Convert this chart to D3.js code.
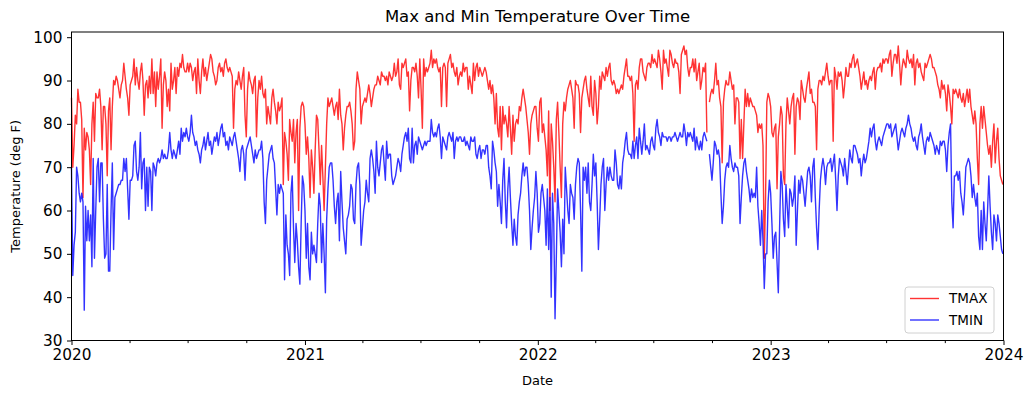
<!DOCTYPE html>
<html>
<head>
<meta charset="utf-8">
<script src="https://cdn.jsdelivr.net/npm/d3@7"></script>
<style>
  body { margin: 0; background: #fff; }
  svg { display: block; font-family: "DejaVu Sans", sans-serif; }
</style>
</head>
<body>
<div id="chart"></div>
<script>
// Readings every second day, first one on 2020-01-01 (null = missing)
var startDate = new Date(2020, 0, 1);
var endDate = new Date(2024, 0, 1);
var stepDays = 2;

var tmax = [
  // 2020
  86,70,75,82,80,88,85,85,81,63, 79,74,78,77,74,66,80,85,76,87,
  86,86,88,84,74,84,84,80,68,83, 86,74,84,90,89,91,90,88,86,89,
  90,94,91,88,86,82,89,90,91,95, 89,93,90,88,92,94,90,82,89,90,
  86,91,87,95,87,92,84,92,88,91, 95,79,89,92,90,84,88,83,94,88,
  90,93,87,93,91,94,93,96,93,92, 92,94,92,94,93,90,92,93,87,95,
  90,87,92,95,91,93,90,92,94,96, 95,92,91,89,90,93,94,92,93,91,
  94,95,93,92,
  93,92,91,79,88,90,89,92,90,88, 91,93,82,77,88,92,90,89,87,90,
  91,77,86,90,88,91,87,86,88,80, 84,82,80,86,88,85,83,80,85,83,
  84,86,66,78,76,73,67,81,78,76, 81,71,78,81,60,79,84,85,84,80,
  73,77,72,63,74,70,64,74,82,81, 74,66,75,68,60,70,80,86,84,85,
  86,84,82,84,85,81,88,82,80,74, 79,82,84,84,85,83,80,74,76,88,
  92,90,88,80,84,85,86,85,87,89, 87,84,86,88,89,89,91,90,89,92,
  91,91,
  // 2021
  90,91,89,92,91,90,91,94,91,92, 95,89,88,94,93,94,95,91,92,83,
  90,93,93,92,94,91,86,95,88,79, 95,91,93,92,93,94,97,93,95,94,
  95,93,92,93,84,93,94,93,84,94, 95,96,93,94,92,91,93,89,91,92,
  91,94,92,93,93,88,91,89,87,94, 90,93,94,91,93,92,91,92,93,92,
  90,88,90,87,89,86,80,87,79,77, 84,74,84,80,82,80,77,84,79,73,
  82,76,80,81,80,84,83,86,88,86, 84,81,78,73,80,82,83,84,84,79,
  76,
  // 2022
  85,86,78,80,77,74,68,83,60,80, 76,70,62,81,85,78,70,63,80,85,
  83,86,88,89,90,88,86,79,90,89, 89,87,78,86,88,90,91,88,86,84,
  91,84,82,90,87,80,84,91,88,92, 91,90,93,91,93,94,90,89,90,89,
  87,88,87,88,89,88,91,93,95,91, 91,90,91,87,76,89,90,88,93,95,
  95,92,91,90,93,94,94,93,96,94, 95,94,93,97,95,92,88,97,94,95,
  93,91,97,96,94,93,95,94,94,92, 87,96,97,98,96,97,93,91,93,93,
  95,92,
  95,90,92,94,88,90,93,92,94,78, null,85,87,88,87,90,94,89,90,86,
  84,71,85,88,90,89,89,92,90,88, 89,80,86,86,85,72,81,72,80,88,
  84,87,84,86,85,84,84,83,82,78, 80,79,80,75,49,63,85,87,86,84,
  // 2023
  78,77,79,80,65,77,80,84,82,68, 66,80,86,83,80,84,86,87,73,84,
  86,85,81,90,88,86,85,88,90,92, 87,88,85,85,84,74,88,90,90,89,
  91,90,92,94,91,89,90,90,76,93, 91,88,92,91,92,90,86,89,93,91,
  91,
  94,93,95,96,93,94,95,93,91,88, 90,92,89,90,88,90,91,90,92,93,
  88,92,93,93,94,92,95,94,95,95, 94,96,97,91,94,96,96,94,98,94,
  89,93,95,94,93,97,95,94,95,93, 96,89,94,95,93,94,92,91,90,94,
  93,94,95,96,95,93,93,92,91,89, 88,86,90,88,89,87,83,89,87,84,
  80,88,87,88,87,86,88,86,85,87, 84,86,88,85,88,84,82,80,83,80,
  72,66,80,84,79,84,81,78,75,73, 75,70,76,80,71,76,79,72,68,67,
  66
];

var tmin = [
  // 2020
  70,45,52,55,70,68,64,62,64,62, 37,61,53,60,53,59,47,72,49,60,
  70,72,62,71,71,58,49,50,66,46, 46,60,71,51,63,64,65,66,66,67,
  67,72,69,72,65,58,67,67,68,75, 76,69,67,70,78,65,71,72,60,70,
  61,70,69,60,71,70,68,71,72,71, 72,74,72,73,72,72,74,78,74,72,
  74,73,72,74,76,73,79,76,78,77, 79,77,76,78,82,78,77,75,76,74,
  73,71,74,75,77,74,76,78,75,76, 73,75,77,76,78,75,77,79,80,77,
  78,75,76,74,
  77,76,75,77,78,76,74,72,69,74, 75,73,67,74,75,76,77,75,73,71,
  74,72,73,74,74,76,72,62,57,67, 70,73,74,75,72,71,65,59,66,64,
  66,65,64,44,59,52,50,45,64,68, 56,48,57,53,47,43,57,68,66,60,
  49,57,47,44,55,50,52,50,48,57, 64,61,48,57,50,41,58,65,70,71,
  71,67,61,57,62,64,53,69,62,56, 53,50,58,59,61,66,65,58,57,66,
  70,71,66,52,56,60,62,67,64,62, 72,74,72,69,64,76,70,68,71,74,
  75,71,
  // 2021
  67,76,72,73,73,68,66,67,68,70, 72,71,69,73,75,77,78,76,79,72,
  71,79,71,75,76,73,77,76,75,74, 75,76,75,76,76,76,81,78,77,78,
  77,79,80,77,72,77,76,75,74,77, 78,77,76,78,72,76,77,76,77,77,
  76,76,77,75,76,75,74,77,76,76, 77,73,72,74,75,72,74,74,73,75,
  75,70,68,65,76,74,71,69,61,66, 62,57,67,72,62,56,65,70,63,57,
  52,58,54,52,59,62,64,68,71,68, 70,70,66,60,51,56,60,63,69,64,
  55,
  // 2022
  57,64,66,63,60,52,65,51,63,40, 64,57,35,49,65,60,55,47,58,50,
  70,65,60,57,66,64,63,58,66,70, 72,71,60,46,70,67,70,64,71,62,
  60,66,73,68,71,62,51,58,66,70, 72,60,66,70,67,70,68,67,67,74,
  71,66,65,68,65,71,73,76,78,74, 73,73,72,76,72,75,77,72,79,76,
  73,76,80,74,75,74,73,76,77,75, 74,79,81,78,77,75,78,77,77,77,
  76,77,77,76,77,77,78,77,76,77, 78,77,77,80,78,75,78,77,78,77,
  76,79,
  74,77,75,74,76,74,77,78,77,76, null,73,70,67,71,76,75,73,74,72,
  64,57,61,67,70,71,70,75,72,70, 69,71,70,70,68,57,63,68,71,72,
  69,67,65,62,65,63,64,63,70,61, 57,52,60,53,42,50,50,62,67,64,
  // 2023
  57,49,54,55,48,41,56,69,66,58, 54,66,61,56,65,64,61,63,68,52,
  60,67,64,68,67,64,61,65,69,70, 68,62,70,72,63,56,51,60,67,70,
  72,70,66,70,71,71,72,69,71,73, 67,60,68,72,71,70,68,72,69,66,
  70,
  74,72,71,75,75,74,73,71,72,68, 71,73,71,72,74,76,79,77,79,80,
  76,74,76,77,76,75,77,78,79,80, 80,79,80,77,78,79,80,77,74,76,
  78,79,78,77,79,80,82,80,79,77, 76,77,75,74,77,78,80,77,75,73,
  76,77,76,78,77,76,75,73,75,74, 73,76,75,76,76,74,69,75,78,80,
  62,56,68,68,69,67,69,64,62,59, 64,70,71,72,71,68,63,66,63,61,
  64,54,51,60,51,62,57,53,60,68, 61,55,51,59,57,53,59,57,54,51,
  50
];

var seriesNames = ["TMAX", "TMIN"];
var seriesColors = ["red", "blue"];
var yTicks = [30, 40, 50, 60, 70, 80, 90, 100];
var yearTicks = ["2020", "2021", "2022", "2023", "2024"];

// SVG dimensions
var svgWidth = 1032;
var svgHeight = 397;
var margin = { top: 32, right: 28.5, bottom: 56.5, left: 71.5 };
var width = svgWidth - margin.left - margin.right;
var height = svgHeight - margin.top - margin.bottom;

var dates = d3.timeDay.range(startDate, endDate, stepDays);
var series = [tmax, tmin];

var svg = d3.select("#chart")
  .append("svg")
  .attr("width", svgWidth)
  .attr("height", svgHeight);

svg.append("rect")
  .attr("width", svgWidth)
  .attr("height", svgHeight)
  .attr("fill", "#fff");

var chartGroup = svg.append("g")
  .attr("transform", `translate(${margin.left}, ${margin.top})`);

// scales
var xScale = d3.scaleTime()
  .domain([startDate, endDate])
  .range([0, width]);

var yScale = d3.scaleLinear()
  .domain([30, 101.2])
  .range([height, 0]);

// lines
var line = d3.line()
  .defined(d => d.v != null)
  .x(d => xScale(d.date))
  .y(d => yScale(d.v));

series.forEach(function(vals, i) {
  var pts = dates.map((dt, j) => ({ date: dt, v: vals[j] }));
  chartGroup.append("path")
    .datum(pts)
    .attr("fill", "none")
    .attr("stroke", seriesColors[i])
    .attr("stroke-opacity", 0.8)
    .attr("stroke-width", 1.4)
    .attr("stroke-linejoin", "round")
    .attr("d", line);
});

// axes
var yearDates = yearTicks.map(y => new Date(+y, 0, 1));
var quarterDates = d3.timeMonth.every(3).range(startDate, endDate)
  .filter(d => d.getMonth() !== 0);

var xAxis = d3.axisBottom(xScale)
  .tickValues(yearDates)
  .tickFormat((d, i) => yearTicks[i])
  .tickSize(4.5)
  .tickPadding(4);

var xMinor = d3.axisBottom(xScale)
  .tickValues(quarterDates)
  .tickFormat("")
  .tickSize(2.6);

var yAxis = d3.axisLeft(yScale)
  .tickValues(yTicks)
  .tickSize(4.5)
  .tickPadding(4.5);

var gx = chartGroup.append("g")
  .attr("transform", `translate(0, ${height})`)
  .call(xAxis);
var gxm = chartGroup.append("g")
  .attr("transform", `translate(0, ${height})`)
  .call(xMinor);
var gy = chartGroup.append("g")
  .call(yAxis);

[gx, gxm, gy].forEach(function(g) {
  g.select(".domain").remove();
  g.attr("font-family", null).attr("font-size", null);
  g.selectAll("line").attr("stroke", "#000").attr("stroke-width", 1);
  g.selectAll("text").attr("fill", "#000").style("font-size", "15.3px");
});

// frame
chartGroup.append("rect")
  .attr("width", width)
  .attr("height", height)
  .attr("fill", "none")
  .attr("stroke", "#000")
  .attr("stroke-width", 1);

// title and axis labels
svg.append("text")
  .attr("x", margin.left + width / 2)
  .attr("y", 22)
  .attr("text-anchor", "middle")
  .style("font-size", "16.5px")
  .text("Max and Min Temperature Over Time");

svg.append("text")
  .attr("x", margin.left + width / 2)
  .attr("y", 385)
  .attr("text-anchor", "middle")
  .style("font-size", "13px")
  .text("Date");

svg.append("text")
  .attr("transform", `translate(20, ${margin.top + height / 2}) rotate(-90)`)
  .attr("text-anchor", "middle")
  .style("font-size", "13px")
  .text("Temperature (deg F)");

// legend
var legend = chartGroup.append("g")
  .attr("transform", `translate(${width - 98.5}, ${height - 53.5})`);

legend.append("rect")
  .attr("width", 89)
  .attr("height", 46)
  .attr("rx", 3)
  .attr("fill", "#fff")
  .attr("fill-opacity", 0.8)
  .attr("stroke", "#d0d0d0");

seriesNames.forEach(function(name, i) {
  var yy = 11.5 + i * 21.5;
  legend.append("line")
    .attr("x1", 5).attr("x2", 34)
    .attr("y1", yy).attr("y2", yy)
    .attr("stroke", seriesColors[i])
    .attr("stroke-opacity", 0.8)
    .attr("stroke-width", 1.4);
  legend.append("text")
    .attr("x", 44)
    .attr("y", yy)
    .attr("dy", "0.36em")
    .style("font-size", "13.5px")
    .text(name);
});
</script>
</body>
</html>
